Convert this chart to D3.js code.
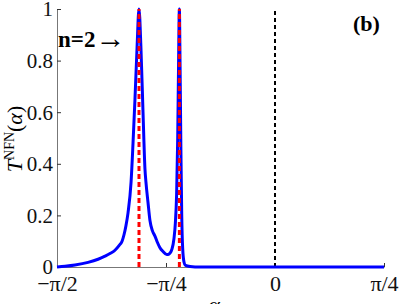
<!DOCTYPE html>
<html>
<head>
<meta charset="utf-8">
<script src="https://cdn.jsdelivr.net/npm/d3@7"></script>
<style>
  body { margin: 0; background: #fff; }
</style>
</head>
<body>
<div id="chart"></div>
<script>
// curve: alpha (rad) and transmission
var alpha = [-1.5708, -1.513, -1.441, -1.347, -1.275, -1.225, -1.189, -1.153, -1.124, -1.102,
             -1.088, -1.074, -1.059, -1.037, -1.023, -1.009, -0.994, -0.980, -0.966, -0.951, -0.937,
             -0.930, -0.915, -0.901, -0.883, -0.865, -0.847, -0.829, -0.807, -0.780, -0.764,
             -0.742, -0.728, -0.718, -0.709, -0.701, -0.695, -0.689, -0.684, -0.678, -0.672,
             -0.665, -0.656, -0.645, -0.612, -0.540, 0.0, 0.7854];
var trans = [0, 0.003, 0.008, 0.018, 0.03, 0.042, 0.052, 0.065, 0.083, 0.10,
             0.125, 0.16, 0.21, 0.33, 0.48, 0.65, 0.85, 1.0, 0.85, 0.6, 0.38,
             0.33, 0.25, 0.18, 0.14, 0.12, 0.095, 0.075, 0.06, 0.048, 0.05,
             0.07, 0.11, 0.17, 0.28, 0.5, 0.78, 1.0, 0.78, 0.45, 0.2,
             0.07, 0.02, 0.006, 0.002, 0, 0, 0];
var resonances = [-0.980, -0.689];   // red dashed lines
var refLine = [0];                   // black dashed line
var xTicks = [-Math.PI / 2, -Math.PI / 4, 0, Math.PI / 4];
var xTickLabels = ["\u2212\u03c0/2", "\u2212\u03c0/4", "0", "\u03c0/4"];
var yTicks = [0, 0.2, 0.4, 0.6, 0.8, 1];
var yTickLabels = ["0", "0.2", "0.4", "0.6", "0.8", "1"];

var width = 399, height = 304;
var margin = {top: 9, right: 15, bottom: 37, left: 57};
var serif = '"Liberation Serif", "Times New Roman", "DejaVu Serif", serif';

var svg = d3.select("#chart").append("svg")
    .attr("width", width)
    .attr("height", height);

var x = d3.scaleLinear()
    .domain([-Math.PI / 2, Math.PI / 4])
    .range([margin.left, width - margin.right]);
var y = d3.scaleLinear()
    .domain([0, 1])
    .range([height - margin.bottom, margin.top]);

// axes
var xAxis = d3.axisBottom(x)
    .tickValues(xTicks)
    .tickFormat(function(d, i) { return xTickLabels[i]; })
    .tickSizeInner(-4).tickSizeOuter(0).tickPadding(3);
var yAxis = d3.axisLeft(y)
    .tickValues(yTicks)
    .tickFormat(function(d, i) { return yTickLabels[i]; })
    .tickSizeInner(-4).tickSizeOuter(0).tickPadding(4);

var gx = svg.append("g")
    .attr("transform", "translate(0," + (height - margin.bottom) + ")")
    .call(xAxis);
var gy = svg.append("g")
    .attr("transform", "translate(" + margin.left + ",0)")
    .call(yAxis);

[gx, gy].forEach(function(g) {
  g.attr("font-family", serif).attr("font-size", 21);
  g.select(".domain").attr("stroke", "#777").attr("stroke-width", 1);
  g.selectAll(".tick line").attr("stroke", "#333");
  g.selectAll(".tick text").attr("fill", "#111");
});
gx.attr("font-size", 22);
gx.selectAll(".tick text").attr("dy", "0.95em");
gy.selectAll(".tick text").attr("dy", "0.33em");

// black dashed reference line
svg.selectAll(".ref")
  .data(refLine)
  .join("line")
    .attr("x1", function(d) { return x(d); })
    .attr("x2", function(d) { return x(d); })
    .attr("y1", y(0))
    .attr("y2", y(1))
    .attr("stroke", "#000")
    .attr("stroke-width", 2)
    .attr("stroke-dasharray", "4,3");

// the transmission curve
var pts = alpha.map(function(a, i) { return [a, trans[i]]; });
var line = d3.line()
    .x(function(d) { return x(d[0]); })
    .y(function(d) { return y(d[1]); })
    .curve(d3.curveMonotoneX);

svg.append("path")
    .datum(pts)
    .attr("d", line)
    .attr("fill", "none")
    .attr("stroke", "#0000ff")
    .attr("stroke-width", 3)
    .attr("stroke-linejoin", "round");

// red dashed lines at resonances
svg.selectAll(".res")
  .data(resonances)
  .join("line")
    .attr("x1", function(d) { return x(d); })
    .attr("x2", function(d) { return x(d); })
    .attr("y1", y(0))
    .attr("y2", y(1))
    .attr("stroke", "#ff0000")
    .attr("stroke-width", 3)
    .attr("stroke-dasharray", "5,3");

// labels
var nl = svg.append("text")
    .attr("x", 58).attr("y", 47)
    .attr("font-family", serif)
    .attr("font-size", 23);
nl.append("tspan").attr("font-weight", "bold").text("n=2");
nl.append("tspan").attr("font-size", 30).attr("dy", 1).text("\u2192");

svg.append("text")
    .attr("x", 353).attr("y", 31)
    .attr("font-family", serif)
    .attr("font-size", 22).attr("font-weight", "bold")
    .text("(b)");

svg.append("text")
    .attr("x", 214).attr("y", 312)
    .attr("text-anchor", "middle")
    .attr("font-family", serif)
    .attr("font-size", 22).attr("font-style", "italic")
    .text("\u03b1");

var yl = svg.append("text")
    .attr("transform", "translate(22,139) rotate(-90)")
    .attr("text-anchor", "middle")
    .attr("font-family", serif)
    .attr("font-size", 22);
yl.append("tspan").attr("font-style", "italic").text("T");
yl.append("tspan").attr("dy", "-8").attr("font-size", 14).text("NFN");
yl.append("tspan").attr("dy", "8").text("(");
yl.append("tspan").attr("font-style", "italic").text("\u03b1");
yl.append("tspan").text(")");
</script>
</body>
</html>
